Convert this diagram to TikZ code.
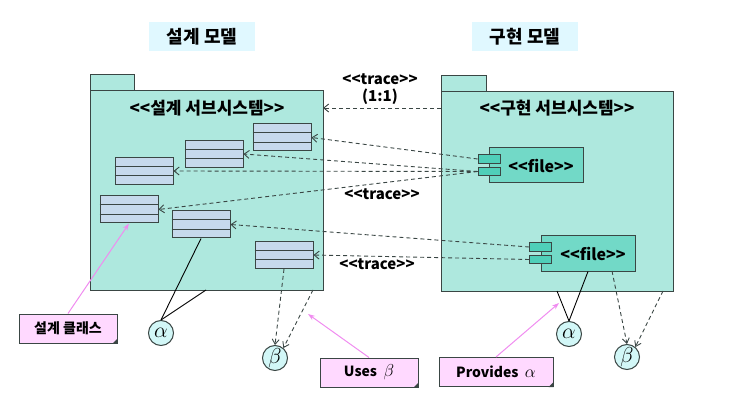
\documentclass[tikz,border=0pt]{standalone}
\usepackage{fontspec}
\setmainfont{Noto Sans CJK KR}
\usetikzlibrary{arrows.meta,calc}

\definecolor{pkgfill}{HTML}{AEE8DE}
\definecolor{filefill}{HTML}{72D9C7}
\definecolor{portfill}{HTML}{4FCFB9}
\definecolor{clsfill}{HTML}{C6D9EC}
\definecolor{ifcfill}{HTML}{D2F7F7}
\definecolor{notefill}{HTML}{FFD9FF}
\definecolor{notepink}{HTML}{F08CF0}
\definecolor{titlefill}{HTML}{E0F8FF}
\definecolor{edge}{HTML}{3A4644}

\tikzset{
  pkg/.style={draw=edge, fill=pkgfill, line width=1pt, inner sep=0pt},
  cls/.style={draw=edge, fill=clsfill, line width=1pt, minimum width=58pt, minimum height=27pt, inner sep=0pt},
  filebox/.style={draw=edge, fill=filefill, line width=1pt, minimum width=94pt, minimum height=35pt, inner sep=0pt,
    font=\bfseries\fontsize{16}{18}\selectfont},
  port/.style={draw=edge, fill=portfill, line width=0.8pt, minimum width=22pt, minimum height=8.5pt, inner sep=0pt},
  ifc/.style={circle, draw=edge, fill=ifcfill, line width=1pt, minimum size=25pt, inner sep=0pt,
    font=\fontsize{14}{16}\selectfont},
  notebox/.style={draw=edge, fill=notefill, line width=1pt, inner sep=0pt, font=\bfseries\fontsize{14}{16}\selectfont},
  heading/.style={fill=titlefill, minimum width=106pt, minimum height=29pt, font=\bfseries\fontsize{18}{20}\selectfont},
  label/.style={font=\bfseries\fontsize{15}{17}\selectfont},
  trace/.style={draw=edge, dash pattern=on 4pt off 3pt, line width=0.9pt, -{Straight Barb[length=5pt,width=8pt]}},
  uses/.style={draw=edge, dash pattern=on 4pt off 3pt, line width=0.9pt, -{Straight Barb[length=5pt,width=7pt]}},
  provides/.style={draw=black, line width=0.9pt},
  pointer/.style={draw=notepink, line width=1pt, -{Stealth[length=7pt,width=5pt]}},
}

% class box: name, centre
\newcommand{\classbox}[2]{%
  \node[cls] (#1) at (#2) {};
  \draw[edge, line width=1pt]
    ($(#1.north west)!1/3!(#1.south west)$) -- ($(#1.north east)!1/3!(#1.south east)$)
    ($(#1.north west)!2/3!(#1.south west)$) -- ($(#1.north east)!2/3!(#1.south east)$);
}

% note with folded corner: name, centre, width, text
\newcommand{\notenode}[4]{%
  \node[notebox, minimum width=#3, minimum height=29pt] (#1) at (#2) {#4};
  \fill[edge] (#1.south east) -- ++(-5,0) -- ++(5,-5) -- cycle;
}
\newcommand{\bigsym}[1]{\scalebox{1.5}{$#1$}}
\newcommand{\midsym}[1]{\scalebox{1.2}{$#1$}}

\begin{document}
\begin{tikzpicture}[x=1pt,y=-1pt]
  \useasboundingbox (0,0) rectangle (739,406);

  % HEADINGS
  \node[heading] (dmodel) at (202,36.5) {설계 모델};
  \node[heading] (imodel) at (525,36.5) {구현 모델};

  % PACKAGES
  % design subsystem
  \node[pkg, minimum width=44pt, minimum height=16pt] (ltab) at (112,83) {};
  \node[pkg, minimum width=233pt, minimum height=199pt] (lpkg) at (206.5,190.5) {};
  \node[font=\bfseries\fontsize{17}{19}\selectfont] (ltitle) at (207,108) {<{}<설계 서브시스템>{}>};
  % implementation subsystem
  \node[pkg, minimum width=45pt, minimum height=16pt] (rtab) at (463.5,84) {};
  \node[pkg, minimum width=232pt, minimum height=199pt] (rpkg) at (557,191.5) {};
  \node[font=\bfseries\fontsize{17}{19}\selectfont] (rtitle) at (557,108) {<{}<구현 서브시스템>{}>};

  % CLASSES
  \classbox{c1}{282,137.5}
  \classbox{c2}{214,154}
  \classbox{c3}{144,171}
  \classbox{c4}{129,209.5}
  \classbox{c5}{201,224.5}
  \classbox{c6}{284,255}

  % FILES
  \node[filebox] (file1) at (536,165.5) {\hspace{10pt}<{}<file>{}>};
  \node[port] (p1a) at (489,159) {};
  \node[port] (p1b) at (489,171.5) {};
  \node[filebox] (file2) at (588,253.5) {\hspace{10pt}<{}<file>{}>};
  \node[port] (p2a) at (540.5,247) {};
  \node[port] (p2b) at (540.5,259.5) {};

  % INTERFACES
  \node[ifc] (la) at (161,333) {\bigsym{\alpha}};
  \node[ifc] (lb) at (275,358) {\bigsym{\beta}};
  \node[ifc] (ra) at (569,334) {\bigsym{\alpha}};
  \node[ifc] (rb) at (627,357) {\bigsym{\beta}};

  % NOTES
  \notenode{n1}{68,328.5}{98pt}{설계 클래스}
  \notenode{n2}{369,372.5}{98pt}{Uses \ \midsym{\beta}}
  \notenode{n3}{496,372}{114pt}{Provides \ \midsym{\alpha}}

  % free ends
  \coordinate (rtr) at (441,108);
  \coordinate (ltr) at (323,108);
  \coordinate (lpa) at (206,290);
  \coordinate (lpb) at (313,290);
  \coordinate (f2b) at (612,271);
  \coordinate (rpa) at (557,291);
  \coordinate (rpb) at (663,291);
  \coordinate (usept) at (308,314);
  \coordinate (provpt) at (559,303);

  % TRACES
  \draw[trace] (rtr) -- (ltr);
  \node[label] (tr1) at (380,79) {<{}<trace>{}>};
  \node[label] (tr1b) at (380,97) {(1:1)};
  \draw[trace] (p1a.west) -- (c1.east);
  \draw[trace] (p1b.west) -- (c2.east);
  \draw[trace] (p1b.west) -- (c3.east);
  \draw[trace] (p1b.west) -- (c4.east);
  \node[label] (tr2) at (382,194) {<{}<trace>{}>};
  \draw[trace] (p2a.west) -- (c5.east);
  \draw[trace] (p2b.west) -- (c6.east);
  \node[label] (tr3) at (377,264) {<{}<trace>{}>};

  % PROVIDES / USES
  \draw[provides] (c5.south) -- (la.north);
  \draw[provides] (lpa) -- (la.north);
  \draw[uses] (c6.south) -- (lb.north);
  \draw[uses] (lpb) -- (lb.50);
  \draw[provides] (file2.south) -- (ra.north);
  \draw[provides] (rpa) -- (ra.north);
  \draw[uses] (f2b) -- (rb.north);
  \draw[uses] (rpb) -- (rb.50);

  % POINTERS
  \draw[pointer] (n1.north) -- (c4.south);
  \draw[pointer] (n2.north) -- (usept);
  \draw[pointer] (n3.north) -- (provpt);
\end{tikzpicture}
\end{document}
